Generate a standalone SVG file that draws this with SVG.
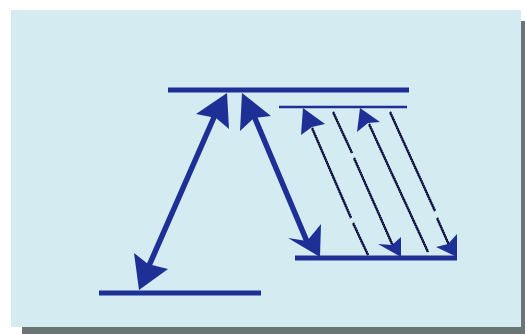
<svg xmlns="http://www.w3.org/2000/svg" width="525" height="334" viewBox="0 0 525 334">
<defs>
<path id="waves" d="M312,128 L351,218 M353,223 L368,255 M333,112 L352,153 M354,158 L393,246 M369,124 L428,252 M390,112 L435,211 M437,218 L449,245"/>
</defs>
<style>
.lvl{stroke:#1e2f95;fill:none}
.shaft{stroke:#1e2f95;fill:none;stroke-width:5.5;stroke-linecap:butt}
.head{fill:#1e2f95}
.wave{stroke:#3446a6;stroke-width:2.2;fill:none}
.wavek{stroke:#000;stroke-width:1.3;fill:none;stroke-dasharray:1.4 1.2}
</style>
<rect x="22" y="21" width="503" height="313" fill="#6b7575"/>
<rect x="11" y="10" width="510" height="317" fill="#d4ebf2"/>
<g id="level-upper"><line class="lvl" x1="168" y1="90" x2="409" y2="90" stroke-width="5"/></g>
<g id="level-upper-vib"><line class="lvl" x1="279" y1="107" x2="407" y2="107" stroke-width="2.5"/></g>
<g id="level-lower-vib"><line class="lvl" x1="295" y1="258" x2="457" y2="258" stroke-width="5"/></g>
<g id="level-ground"><line class="lvl" x1="99" y1="293" x2="261" y2="293" stroke-width="5"/></g>
<g id="connectors">
<line class="shaft" x1="148" y1="268" x2="215" y2="115"/>
<polygon class="head" points="227,93 229,129 216,118 196,114"/>
<polygon class="head" points="139,290 134,253 148,264 168,269"/>
<line class="shaft" x1="254" y1="116" x2="308" y2="244" stroke-width="6"/>
<polygon class="head" points="242,93 240,131 254,118 271,116"/>
<polygon class="head" points="320,257 321,224 307,241 288,238"/>
<use href="#waves" class="wave"/>
<use href="#waves" class="wavek" transform="translate(0.5,-0.22)"/>
<use href="#waves" class="wavek" transform="translate(-0.5,0.22)" stroke-dashoffset="1.3"/>
<polygon class="head" points="303,108 301,135 312,127 325,124"/>
<polygon class="head" points="401,257 401,237 392,245 378,244"/>
<polygon class="head" points="360,108 357,132 368,123 380,122"/>
<polygon class="head" points="457,257 457,234 448,244 436,247"/>
</g>
</svg>
